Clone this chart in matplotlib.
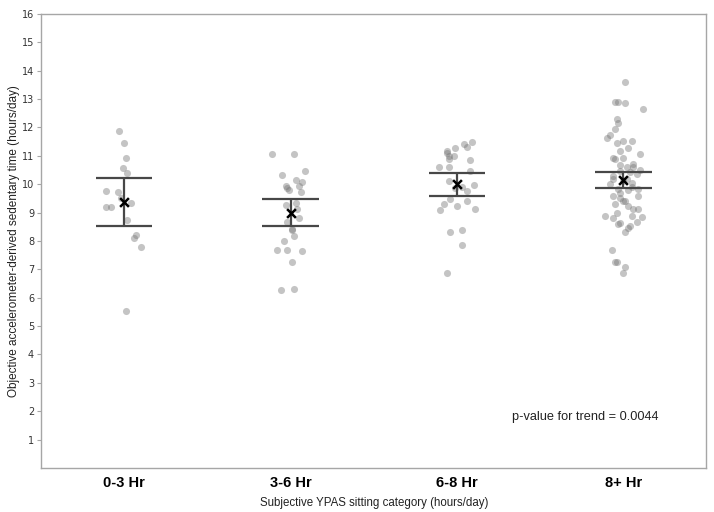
import matplotlib; matplotlib.use('Agg')
import numpy as np
from matplotlib import pyplot as plt

plt.rcParams.update({
    'font.family': ['Liberation Sans', 'DejaVu Sans'],
})

POINT = (0.45, 0.45, 0.45)
BAR = (0.28, 0.28, 0.28)
SPINE = (0.65, 0.65, 0.65)

categories = ['0-3 Hr', '3-6 Hr', '6-8 Hr', '8+ Hr']

# individual observations (hours/day) and their horizontal jitter (category units)
vals_03 = [11.86, 11.45, 10.92, 10.58, 10.39, 9.76, 9.74, 9.18, 9.18, 9.32,
           9.50, 8.75, 8.21, 8.09, 7.79, 5.53]
jit_03 = [-0.03, 0.00, 0.01, -0.01, 0.02, -0.11, -0.04, -0.11, -0.08, 0.04,
          -0.02, 0.02, 0.07, 0.06, 0.10, 0.01]

vals_36 = [11.05, 11.05, 10.47, 10.33, 10.14, 10.08, 9.94, 9.86, 9.80, 9.94,
           9.74, 9.27, 9.32, 9.12, 8.80, 8.67, 8.41, 8.39, 8.18, 7.99,
           7.69, 7.69, 7.63, 7.26, 6.28, 6.32]
jit_36 = [-0.11, 0.02, 0.09, -0.05, 0.03, 0.07, -0.03, -0.02, -0.01, 0.05,
          0.06, -0.03, 0.03, 0.04, 0.05, -0.02, 0.01, 0.01, 0.02, -0.04,
          -0.08, -0.02, 0.07, 0.01, -0.06, 0.02]

vals_68 = [11.49, 11.41, 11.32, 11.16, 11.08, 11.26, 10.99, 10.88, 10.98, 10.85,
           10.61, 10.61, 10.47, 10.12, 9.90, 9.76, 9.96, 9.86, 9.47, 9.42,
           9.29, 9.09, 9.23, 9.12, 8.33, 8.38, 7.84, 6.87]
jit_68 = [0.09, 0.04, 0.06, -0.06, -0.06, -0.01, -0.02, -0.05, -0.05, 0.08,
          -0.11, -0.05, 0.08, -0.05, 0.03, 0.06, 0.10, -0.01, -0.04, 0.06,
          -0.08, -0.10, 0.00, 0.11, -0.04, 0.03, 0.03, -0.06]

vals_8p = [13.59, 12.89, 12.91, 12.85, 12.65, 12.29, 12.14, 11.94, 11.72, 11.61,
           11.53, 11.53, 11.46, 11.28, 11.15, 11.05, 10.93, 10.93, 10.88, 10.67,
           10.59, 10.61, 10.46, 10.41, 10.35, 10.18, 10.18, 10.04, 10.00, 9.82,
           9.79, 9.82, 9.57, 9.51, 9.41, 9.57, 9.23, 9.41, 9.12, 9.14,
           8.88, 8.82, 8.98, 8.88, 8.85, 8.65, 8.62, 8.59, 8.53, 8.46,
           8.33, 7.69, 7.27, 7.26, 7.07, 6.86,
           10.30, 10.10, 9.90, 9.70, 10.70, 9.30, 10.50]
jit_8p = [0.01, -0.05, -0.03, 0.01, 0.12, -0.04, -0.03, -0.05, -0.08, -0.10,
          0.00, 0.05, -0.04, 0.03, -0.02, 0.10, -0.06, 0.00, -0.05, -0.02,
          0.02, 0.06, -0.02, 0.04, 0.08, -0.06, 0.02, 0.05, -0.08, -0.03,
          0.03, 0.09, -0.06, -0.02, 0.01, 0.09, 0.03, 0.00, 0.06, 0.09,
          -0.11, -0.06, -0.04, 0.05, 0.11, 0.08, -0.02, -0.03, 0.04, 0.03,
          0.01, -0.07, -0.05, -0.04, 0.01, 0.00,
          -0.06, 0.00, 0.05, -0.02, 0.06, -0.05, 0.10]

# group means and interval bounds
means = [9.38, 8.99, 9.99, 10.14]
lower = [8.54, 8.53, 9.58, 9.86]
upper = [10.21, 9.46, 10.39, 10.41]

p_text = 'p-value for trend = 0.0044'

groups = [(vals_03, jit_03), (vals_36, jit_36), (vals_68, jit_68), (vals_8p, jit_8p)]

fig = plt.figure(figsize=(7.14, 5.12), dpi=100)
ax = fig.add_axes([0.0574, 0.086, 0.932, 0.887])

for i, (vals, jit) in enumerate(groups):
    x = i + np.array(jit)
    ax.scatter(x, vals, s=26, color=POINT, alpha=0.42, linewidths=0, zorder=2)

idx = np.arange(len(categories))
ax.vlines(idx, lower, upper, color=BAR, lw=1.6, zorder=3)
ax.hlines(lower, idx - 0.17, idx + 0.17, color=BAR, lw=1.6, zorder=3)
ax.hlines(upper, idx - 0.17, idx + 0.17, color=BAR, lw=1.6, zorder=3)
ax.scatter(idx, means, marker='x', s=40, color='black', linewidths=1.8, zorder=4)

ax.text(2.33, 1.8, p_text, fontsize=9.2, color='#222222', va='center', ha='left')

ax.set_xlim(-0.5, 3.5)
ax.set_ylim(0, 16)
ax.set_xticks(idx)
ax.set_xticklabels(categories, fontsize=10.5, fontweight='bold')
ax.tick_params(axis='x', length=0, pad=6)
ax.set_yticks(np.arange(1, 17))
ax.tick_params(axis='y', length=3, width=0.8, color=SPINE, labelsize=7,
               labelcolor='#333333', pad=2)
for lab in ax.get_yticklabels():
    lab.set_family('DejaVu Sans')

for sp in ax.spines.values():
    sp.set_color(SPINE)
    sp.set_linewidth(1.0)

ax.set_ylabel('Objective accelerometer-derived sedentary time (hours/day)',
              fontsize=8.5, color='#222222', labelpad=1)
ax.set_xlabel('Subjective YPAS sitting category (hours/day)',
              fontsize=8.3, color='#222222', labelpad=5)

plt.savefig('out.png', dpi=100)
plt.close()
